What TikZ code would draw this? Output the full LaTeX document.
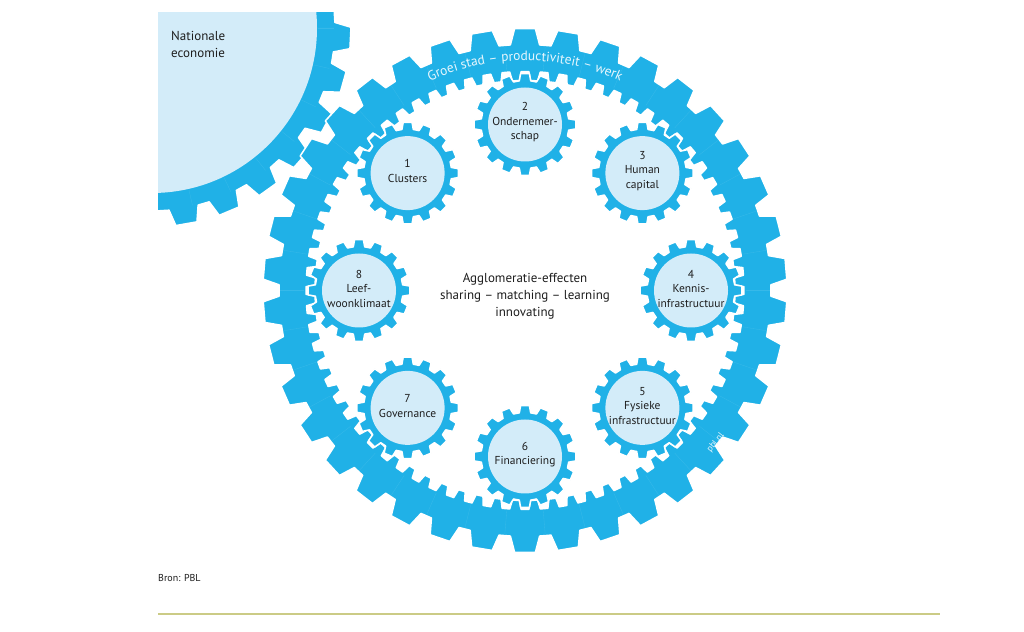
\documentclass[tikz,border=0pt]{standalone}
\usepackage{fontspec}
\setmainfont{PT Sans}
\usetikzlibrary{calc,decorations.text}
\definecolor{gearblue}{HTML}{20B1E7}
\definecolor{gearlight}{HTML}{D3ECF9}
\definecolor{txt}{HTML}{1E1E1E}
\definecolor{rulecol}{HTML}{CBCB86}
\definecolor{ringtext}{HTML}{E6F6FD}
\tikzset{
  gearbody/.style={fill=gearblue,draw=white,line width=1.5pt,line join=round},
  holebody/.style={fill=white,draw=white,line width=1.5pt,line join=round},
  gearcore/.style={fill=gearlight,draw=none},
  segline/.style={draw=gearblue!90!white,line width=0.35pt},
  glabel/.style={align=center,text=txt,inner sep=0pt,font=\fontsize{11.5}{14.5}\selectfont},
  biglabel/.style={align=center,text=txt,inner sep=0pt,font=\fontsize{13}{17}\selectfont},
}
% #1 style, #2 centre coordinate, #3 teeth, #4 base radius, #5 tip radius, #6 phase, #7 base half (frac of pitch), #8 tip half
\newcommand\toothed[8]{%
  \pgfmathtruncatemacro\gN{#3-1}%
  \pgfmathsetmacro\gP{360/#3}%
  \pgfmathsetmacro\gR{#7*\gP}%
  \pgfmathsetmacro\gT{#8*\gP}%
  \begin{scope}[shift={(#2)}]
    \path[#1] ({#6-\gR}:#4) \foreach \k in {0,...,\gN}{
      -- ({#6+\k*\gP-\gR}:#4) -- ({#6+\k*\gP-\gT}:#5) -- ({#6+\k*\gP+\gT}:#5) -- ({#6+\k*\gP+\gR}:#4)
    } -- cycle;
  \end{scope}%
}
\begin{document}
\begin{tikzpicture}[x=1pt,y=1pt]
\useasboundingbox (0,0) rectangle (1024,631);
\fill[white] (0,0) rectangle (1024,631);

% Nationale economie gear (clipped)
\coordinate (N) at (152,603);
\begin{scope}
  \clip (158,0) rectangle (1024,618);
  \toothed{gearbody}{N}{28}{183}{199}{-28.6}{0.36}{0.24}
  \foreach \a in {0,12.857,...,360} \draw[segline] ($(N)+(\a:166)$) -- ($(N)+(\a:182)$);
  \fill[gearcore] (N) circle[radius=165];
\end{scope}
\node[biglabel,align=left,anchor=north west] (nat) at (171,600) {Nationale\\economie};

% big ring
\coordinate (C) at (525,340.5);
\toothed{gearbody}{C}{38}{246}{262}{90}{0.36}{0.24}
\toothed{holebody}{C}{72}{219}{210}{2.5}{0.30}{0.19}
\foreach \a in {0,9.4737,...,359} \draw[segline] ($(C)+(\a:221)$) -- ($(C)+(\a:245)$);

\path[decorate,decoration={text along path,text align=center,
  text={|\color{ringtext}\fontsize{13.5}{13.5}\selectfont|Groei stad – productiviteit – werk}}]
  ($(C)+(130:230)$) arc[start angle=130,end angle=50,radius=230];
\node[rotate=51.4,text=ringtext,inner sep=0pt,font=\fontsize{9}{9}\selectfont] (pbl) at ($(C)+(-38.6:244)$) {pbl.nl};

% small gears
\foreach \i/\a in {1/135,2/90,3/45,4/0,5/-45,6/-90,7/-135,8/180}{
  \coordinate (g\i) at ($(C)+(\a:166)$);
}
\foreach \i in {1,...,8}{
  \toothed{gearbody}{g\i}{16}{44}{51}{0}{0.33}{0.22}
  \fill[gearcore] (g\i) circle[radius=37];
}

\node[glabel] (l1) at ($(g1)+(0,2)$) {1\\Clusters};
\node[glabel] (l2) at ($(g2)+(0,2)$) {2\\Ondernemer-\\schap};
\node[glabel] (l3) at ($(g3)+(0,2)$) {3\\Human\\capital};
\node[glabel] (l4) at ($(g4)+(0,2)$) {4\\Kennis-\\infrastructuur};
\node[glabel] (l5) at ($(g5)+(0,2)$) {5\\Fysieke\\infrastructuur};
\node[glabel] (l6) at ($(g6)+(0,2)$) {6\\Financiering};
\node[glabel] (l7) at ($(g7)+(0,2)$) {7\\Governance};
\node[glabel] (l8) at ($(g8)+(0,2)$) {8\\Leef-\\woonklimaat};

\node[biglabel] (center) at (525,335) {Agglomeratie-effecten\\sharing – matching – learning\\innovating};

% source and rule
\node[anchor=base west,inner sep=0pt,text=txt,font=\fontsize{10}{12}\selectfont] (bron) at (158,49) {Bron: PBL};
\coordinate (r1) at (158,17);
\coordinate (r2) at (940,17);
\draw[rulecol,line width=1.2pt] (r1) -- (r2);
\end{tikzpicture}
\end{document}
